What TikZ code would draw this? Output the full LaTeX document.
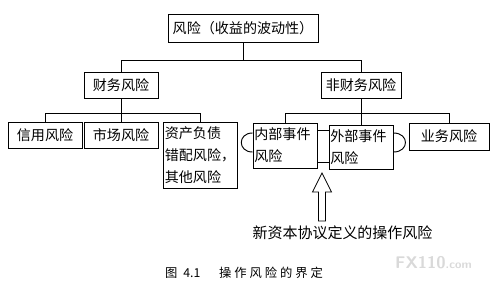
\documentclass[tikz,border=0pt]{standalone}
\usepackage{fontspec}
\newfontfamily\cjk{Noto Sans CJK SC}
\usetikzlibrary{calc}
\tikzset{
    riskbox/.style={rectangle, draw, line width=0.8pt, inner xsep=0.04cm, inner ysep=1pt, font=\cjk\fontsize{12}{19}\selectfont},
    riskbox_multi/.style={riskbox, align=left, text width=#1},
    link/.style={line width=0.8pt}
}

\begin{document}
\begin{tikzpicture}

    \useasboundingbox (0,0) rectangle (15.06,8.94);

    % Boxes - Top
    \node[riskbox, minimum width=4.5cm, minimum height=0.84cm] (top) at (7.29,8.10) {风险（收益的波动性）};

    % Boxes - Middle
    \node[riskbox, minimum width=2.22cm, minimum height=0.78cm] (fin) at (3.63,6.39) {财务风险};
    \node[riskbox, minimum width=2.4cm, minimum height=0.78cm] (nonfin) at (10.83,6.39) {非财务风险};

    % Boxes - Bottom
    \node[riskbox, minimum width=2.22cm, minimum height=0.78cm] (credit) at (1.35,4.89) {信用风险};
    \node[riskbox, minimum width=2.22cm, minimum height=0.78cm] (market) at (3.63,4.89) {市场风险};
    \node[riskbox_multi=2.14cm, minimum height=1.98cm] (alm) at (6.015,4.29) {资产负债\\错配风险，\\其他风险};
    \node[riskbox_multi=1.84cm, minimum height=1.35cm] (internal) at (8.55,4.575) {内部事件\\风险};
    \node[riskbox_multi=1.84cm, minimum height=1.32cm] (external) at (10.83,4.53) {外部事件\\风险};
    \node[riskbox, minimum width=2.4cm, minimum height=0.81cm] (business) at (13.47,4.845) {业务风险};

    % Tree lines
    \draw[link] (top.south) -- ++(0,-0.54) coordinate (topbar);
    \draw[link] (fin.north) |- (topbar) -| (nonfin.north);
    \draw[link] (fin.south) -- (market.north);
    \draw[link] (credit.north) |- ($(fin.south)+(0,-0.45)$) -| (alm.north);
    \draw[link] (nonfin.south) -- (external.north);
    \draw[link] (internal.north) |- ($(nonfin.south)+(0,-0.45)$) -| (business.north);

    % Links between internal and external
    \coordinate (linkA) at ([yshift=0.465cm]internal.east);
    \coordinate (linkB) at ([yshift=-0.495cm]internal.east);
    \draw[link] (linkA) -- (linkA -| external.west);
    \draw[link] (linkB) -- (linkB -| external.west);

    % Loops
    \draw[link] ([yshift=0.375cm]internal.west) .. controls +(-0.45,0) and +(-0.45,0) .. ([yshift=-0.195cm]internal.west);
    \draw[link] ([yshift=0.42cm]external.east) .. controls +(0.48,0) and +(0.48,0) .. ([yshift=-0.15cm]external.east);

    % Hollow arrow and its label
    \node[font=\cjk\fontsize{12.8}{15}\selectfont] (basel) at (10.275,1.95) {新资本协议定义的操作风险};
    \coordinate (tip) at (9.66,3.75);
    \draw[line width=0.7pt] (tip) -- ++(0.285,-0.57) -- ++(-0.18,0) -- ++(0,-0.87) -- ++(-0.21,0) -- ++(0,0.87) -- ++(-0.18,0) -- cycle;

    % Caption
    \node[anchor=west, inner sep=0pt, font=\cjk\fontsize{10.5}{12}\selectfont] (caption) at (4.95,0.75)
    {图\kern5pt 4.1\kern16pt 操\kern2.5pt 作\kern2.5pt 风\kern2.5pt 险\kern2.5pt 的\kern2.5pt 界\kern2.5pt 定};

    % Watermark
    \node[anchor=west, inner sep=0pt, text=gray!30, font=\sffamily\bfseries\Large] (mark) at (11.85,1.05) {FX110\normalsize.com};

\end{tikzpicture}
\end{document}
